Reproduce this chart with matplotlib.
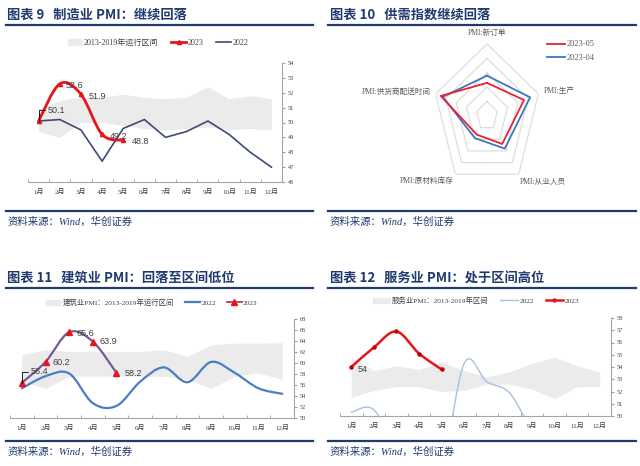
import numpy as np
import matplotlib
matplotlib.use("Agg")
import matplotlib.pyplot as plt
from matplotlib.path import Path
from matplotlib.patches import PathPatch, Patch
from matplotlib.lines import Line2D

# 数据
months = ["1月", "2月", "3月", "4月", "5月", "6月", "7月", "8月", "9月", "10月", "11月", "12月"]

mfg_2022 = [50.1, 50.2, 49.5, 47.4, 49.6, 50.2, 49.0, 49.4, 50.1, 49.2, 48.0, 47.0]
mfg_2023 = [50.1, 52.6, 51.9, 49.2, 48.8]
mfg_low = [49.4, 49.0, 50.0, 50.0, 49.8, 49.6, 49.5, 49.6, 49.7, 49.5, 49.6, 49.5]
mfg_high = [50.9, 51.5, 51.7, 51.7, 51.9, 51.7, 51.6, 51.7, 52.4, 51.6, 51.8, 51.6]

radar_cats = ["PMI:新订单", "PMI:生产", "PMI:从业人员", "PMI:原材料库存", "PMI:供货商配送时间"]
radar_2305 = [48.3, 49.6, 48.4, 47.6, 50.5]
radar_2304 = [48.8, 50.2, 48.8, 47.9, 50.3]

con_2022 = [55.4, 57.6, 58.1, 52.7, 52.2, 56.6, 59.2, 56.5, 60.2, 58.2, 55.4, 54.4]
con_2023 = [56.4, 60.2, 65.6, 63.9, 58.2]
con_low = [56.6, 55.4, 57.6, 57.6, 57.6, 57.6, 57.6, 57.0, 55.4, 57.6, 58.2, 57.0]
con_high = [61.5, 62.4, 62.1, 62.1, 62.1, 62.1, 62.4, 61.2, 63.3, 63.6, 63.6, 63.7]

svc_2022 = [50.3, 50.5, 46.7, 40.0, 45.1, 54.3, 52.8, 51.9, 48.9, 46.9, 45.1, 39.4]
svc_2023 = [54.0, 55.6, 56.9, 55.1, 53.8]
svc_low = [51.5, 52.1, 52.4, 52.4, 52.0, 52.1, 52.6, 52.6, 52.2, 51.4, 52.4, 52.4]
svc_high = [54.8, 53.7, 54.1, 53.8, 54.4, 53.7, 53.2, 53.6, 54.3, 54.8, 54.1, 53.6]

NAVY = "#1F3A6E"
BAND = "#EBEBEB"
SERIF = ["Liberation Serif", "Noto Sans CJK SC"]
CJK = ["Noto Sans CJK SC", "DejaVu Sans"]

W, H = 640, 466
fig = plt.figure(figsize=(6.4, 4.66), dpi=100)


def box(x0, y0, x1, y1):
    return [x0 / W, 1 - y1 / H, (x1 - x0) / W, (y1 - y0) / H]


def hline(x0, x1, y, lw=1.6):
    fig.add_artist(Line2D([x0 / W, x1 / W], [1 - y / H, 1 - y / H], color=NAVY, lw=lw))


def header(x, y, title, line_y, x0, x1):
    fig.text(x / W, 1 - y / H, title, fontsize=9.5, fontweight="bold", color=NAVY,
             family=CJK, va="center")
    hline(x0, x1, line_y)


def footer(x0, x1, line_y):
    hline(x0, x1, line_y)
    fig.text((x0 + 2) / W, 1 - (line_y + 11) / H, "资料来源：Wind，华创证券", fontsize=7.5,
             color=NAVY, style="italic", family=SERIF, va="center")


def smooth(ax, xs, ys, color, lw, z=3):
    # excel-like smoothed line (bezier through the points)
    n = len(xs)
    verts = [(xs[0], ys[0])]
    codes = [Path.MOVETO]
    for i in range(n - 1):
        a = i - 1 if i > 0 else i
        d = i + 2 if i + 2 < n else i + 1
        c1 = (xs[i] + (xs[i + 1] - xs[a]) / 6, ys[i] + (ys[i + 1] - ys[a]) / 6)
        c2 = (xs[i + 1] - (xs[d] - xs[i]) / 6, ys[i + 1] - (ys[d] - ys[i]) / 6)
        verts += [c1, c2, (xs[i + 1], ys[i + 1])]
        codes += [Path.CURVE4] * 3
    ax.add_patch(PathPatch(Path(verts, codes), fill=False, ec=color, lw=lw, zorder=z,
                           capstyle="round", joinstyle="round"))


def setup_line_axes(ax, ylo, yhi, step):
    x = np.arange(1, 13)
    ax.set_xlim(0.5, 12.5)
    ax.set_ylim(ylo, yhi)
    ax.set_xticks(x)
    ax.set_xticklabels(months, fontsize=5, family=SERIF, color="#404040")
    ax.set_xticks(np.arange(0.5, 13, 1), minor=True)
    ax.tick_params(axis="x", which="major", length=0, pad=5)
    ax.tick_params(axis="x", which="minor", length=2, direction="in", color="#A0A0A0")
    ax.set_yticks(np.arange(ylo, yhi + 0.01, step))
    ax.yaxis.tick_right()
    ax.tick_params(axis="y", length=2, direction="out", color="#A0A0A0", labelsize=4.5,
                   labelcolor="#404040", pad=2)
    for t in ax.get_yticklabels():
        t.set_family(SERIF)
    for s in ["top", "left"]:
        ax.spines[s].set_visible(False)
    for s in ["bottom", "right"]:
        ax.spines[s].set_color("#A6A6A6")
        ax.spines[s].set_linewidth(0.8)
    ax.patch.set_alpha(0)
    return x


def label(ax, txt, x, y, dx, dy, leader=False):
    kw = dict(textcoords="offset pixels", fontsize=6.5, color="#404040",
              family="Liberation Sans", ha="left", va="center", zorder=6)
    if leader:
        kw["arrowprops"] = dict(arrowstyle="-", color="black", lw=0.6, shrinkA=0, shrinkB=0,
                                connectionstyle="angle,angleA=0,angleB=90")
    ax.annotate(txt, xy=(x, y), xytext=(dx, dy), **kw)


def legend(handles, names, cx, cy, size=5.5, hl=1.8, cs=1.4):
    fig.legend(handles, names, loc="center", bbox_to_anchor=(cx / W, 1 - cy / H),
               ncol=len(handles), frameon=False, prop=dict(family=SERIF, size=size),
               handlelength=hl, columnspacing=cs, handletextpad=0.2, labelcolor="#404040")


# ---------- 图表 9 ----------
header(7, 15, "图表 9   制造业 PMI：继续回落", 24.5, 6, 313)
ax1 = fig.add_axes(box(28, 63, 282, 182))
x = setup_line_axes(ax1, 46, 54, 1)
ax1.fill_between(x, mfg_low, mfg_high, color=BAND, lw=0, zorder=1)
ax1.plot(x, mfg_2022, color="#3F4A78", lw=1.2, zorder=3)
x23 = x[:len(mfg_2023)]
smooth(ax1, x23, mfg_2023, "#E8141B", 2.0, z=4)
ax1.plot(x23, mfg_2023, ls="none", marker="^", ms=3, color="#E8141B", zorder=5)
label(ax1, "50.1", 1, mfg_2023[0], 9, 11, leader=True)
for i, (dx, dy) in enumerate([(6, -2), (8, -2), (8, -2), (9, -1)], start=1):
    label(ax1, f"{mfg_2023[i]:.1f}", x23[i], mfg_2023[i], dx, dy)
h1 = [Patch(color=BAND), Line2D([], [], color="#E8141B", lw=2, marker="^", ms=3),
      Line2D([], [], color="#3F4A78", lw=1.2)]
legend(h1, ["2013-2019年运行区间", "2023", "2022"], 158, 43, size=5.8, hl=1.8, cs=1.6)
footer(6, 313, 211)

# ---------- 图表 10 ----------
header(330, 15, "图表 10   供需指数继续回落", 24.5, 328, 636)
ax2 = fig.add_axes(box(433, 44, 541, 188), projection="polar")
ax2.set_aspect("auto")
ax2.set_theta_offset(np.pi / 2)
ax2.set_theta_direction(-1)
ax2.set_ylim(46, 51)
ax2.grid(False)
ax2.spines["polar"].set_visible(False)
ax2.set_xticks([])
ax2.set_yticks([])
ax2.patch.set_alpha(0)
ang = np.linspace(0, 2 * np.pi, len(radar_cats), endpoint=False)
ang_c = np.append(ang, ang[0])
for r in [47, 48, 49, 50, 51]:
    ax2.plot(ang_c, [r] * len(ang_c), color="#DADADA", lw=0.8, zorder=1)
ax2.plot(ang_c, radar_2304 + radar_2304[:1], color="#3D76C2", lw=1.3, zorder=3)
ax2.plot(ang_c, radar_2305 + radar_2305[:1], color="#E62330", lw=1.3, zorder=4)
lab_pos = [(51.5, "center", "bottom"), (51.5, "left", "center"), (51.2, "left", "top"),
           (51.2, "right", "top"), (51.5, "right", "center")]
for a, name, (r, ha, va) in zip(ang, radar_cats, lab_pos):
    ax2.text(a, r, name, ha=ha, va=va, fontsize=5.5, color="#595959", family=SERIF)
h2 = [Line2D([], [], color="#E62330", lw=1.3), Line2D([], [], color="#3D76C2", lw=1.3)]
fig.legend(h2, ["2023-05", "2023-04"], loc="center", bbox_to_anchor=(571 / W, 1 - 51 / H),
           ncol=1, frameon=False, prop=dict(family=SERIF, size=6), handlelength=2.2,
           handletextpad=0.2, labelspacing=0.6, labelcolor="#595959")
footer(328, 636, 211)

# ---------- 图表 11 ----------
header(7, 278, "图表 11   建筑业 PMI：回落至区间低位", 288, 6, 313)
ax3 = fig.add_axes(box(10, 319, 294, 418))
x = setup_line_axes(ax3, 50, 68, 2)
ax3.fill_between(x, con_low, con_high, color=BAND, lw=0, zorder=1)
smooth(ax3, x, con_2022, "#4A7DC4", 1.6, z=3)
x23 = x[:len(con_2023)]
smooth(ax3, x23, con_2023, "#765A98", 1.6, z=4)
ax3.plot(x23, con_2023, ls="none", marker="^", ms=4, color="#E8141B", zorder=5)
label(ax3, "56.4", 1, con_2023[0], 9, 11, leader=True)
for i, (dx, dy) in enumerate([(7, -1), (7, -1), (7, 0), (8, -1)], start=1):
    label(ax3, f"{con_2023[i]:.1f}", x23[i], con_2023[i], dx, dy)
h3 = [Patch(color=BAND), Line2D([], [], color="#4A7DC4", lw=1.6),
      Line2D([], [], color="#B23A5A", lw=1.3, marker="^", ms=4, mfc="#E8141B", mec="#E8141B")]
legend(h3, ["建筑业PMI：2013-2019年运行区间", "2022", "2023"], 152, 302, size=5.3, hl=2.0, cs=1.5)
footer(6, 313, 441)

# ---------- 图表 12 ----------
header(330, 278, "图表 12   服务业 PMI：处于区间高位", 288, 328, 636)
ax4 = fig.add_axes(box(340, 318, 611, 416))
x = setup_line_axes(ax4, 50, 58, 1)
ax4.fill_between(x, svc_low, svc_high, color=BAND, lw=0, zorder=1)
smooth(ax4, x, svc_2022, "#A8C0E0", 1.0, z=3)
x23 = x[:len(svc_2023)]
smooth(ax4, x23, svc_2023, "#E8141B", 1.8, z=4)
ax4.plot(x23, svc_2023, ls="none", marker="o", ms=2.2, color="#C00000", zorder=5)
label(ax4, "54", 1, svc_2023[0], 6, -2)
h4 = [Patch(color=BAND), Line2D([], [], color="#A8C0E0", lw=1.0),
      Line2D([], [], color="#E8141B", lw=1.8, marker="o", ms=2.2)]
legend(h4, ["服务业PMI：2013-2019年区间", "2022", "2023"], 476, 300, size=5.3, hl=2.4, cs=1.6)
footer(328, 636, 441)

fig.savefig("out.png", dpi=100)
